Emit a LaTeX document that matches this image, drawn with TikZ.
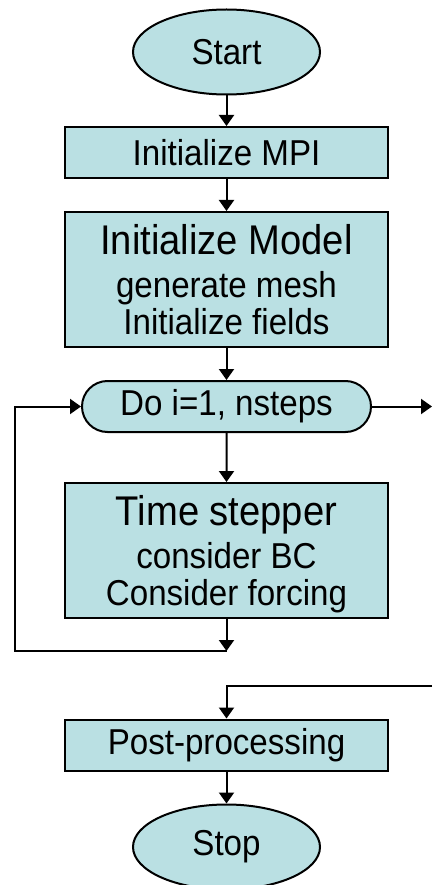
\documentclass[tikz,border=0pt]{standalone}
\usepackage{fontspec}
\setmainfont{Liberation Sans}[FakeStretch=0.92]
\usetikzlibrary{shapes.geometric,shapes.misc,arrows.meta}
\definecolor{boxfill}{RGB}{186,224,227}
\tikzset{
  base/.style={draw=black, line width=2pt, fill=boxfill, inner sep=0pt, align=center,
    font=\fontsize{36}{37.5}\selectfont},
  termbox/.style={base, ellipse, minimum width=187pt, minimum height=85pt},
  procbox/.style={base, rectangle, minimum width=323pt},
  loopbox/.style={base, rounded rectangle, minimum width=289pt, minimum height=51pt},
  conn/.style={line width=2pt, -{Triangle[width=15pt,length=11pt]}},
  plain/.style={line width=2pt}
}
\begin{document}
\begin{tikzpicture}[x=1pt,y=-1pt]
\useasboundingbox (0,0) rectangle (432,885);
\node[termbox] (start) at (226.5,52) {Start};
\node[procbox, minimum height=51pt] (mpi) at (226.5,152.5) {Initialize MPI};
\node[procbox, minimum height=135pt, text depth=0pt] (model) at (226.5,279.5)
  {{\fontsize{41.5}{41.5}\selectfont Initialize Model}\\[5pt]generate mesh\\Initialize fields};
\node[loopbox] (loop) at (226.5,406.5) {Do i=1, nsteps};
\node[procbox, minimum height=135pt, text depth=0pt] (ts) at (226.5,550.5)
  {{\fontsize{41.5}{41.5}\selectfont Time stepper}\\[5pt]consider BC\\Consider forcing};
\node[procbox, minimum height=51pt] (post) at (226.5,745) {Post-processing};
\node[termbox] (stop) at (226.5,847) {Stop};

\coordinate (j) at (226.5,651);
\coordinate (cl) at (15,651);
\coordinate (rexit) at (432,406.5);
\coordinate (rin) at (432,686);
\coordinate (rturn) at (226.5,686);

\draw[conn] (start) -- (mpi);
\draw[conn] (mpi) -- (model);
\draw[conn] (model) -- (loop);
\draw[conn] (loop) -- (ts);
\draw[conn] (ts) -- (j);
\draw[conn] (j) -- (cl) |- (loop.west);
\draw[conn] (loop.east) -- (rexit);
\draw[conn] (rin) -- (rturn) -- (post);
\draw[conn] (post) -- (stop);
\end{tikzpicture}
\end{document}
